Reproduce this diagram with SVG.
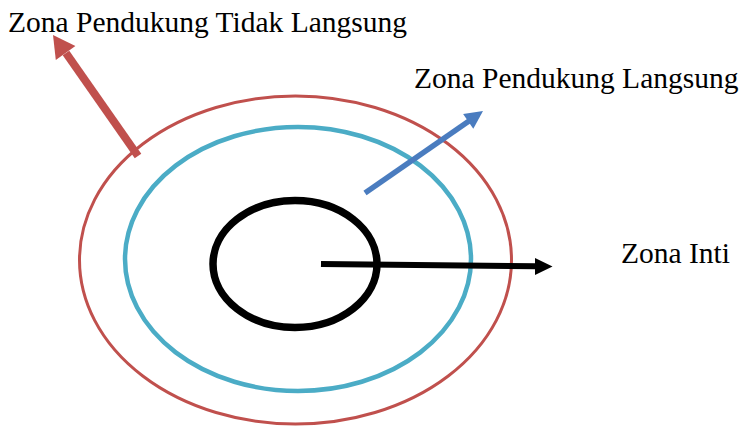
<svg xmlns="http://www.w3.org/2000/svg" width="739" height="427" viewBox="0 0 739 427">
<style>
.lbl{font-family:"Liberation Serif","Times New Roman",serif;font-size:29.5px;fill:#000}
.ring{fill:none}
</style>
<rect width="739" height="427" fill="#fff"/>
<g id="zona-pendukung-tidak-langsung">
<ellipse class="ring" cx="295.5" cy="260" rx="216" ry="164" stroke="#C0504D" stroke-width="3"/>
</g>
<g id="zona-pendukung-langsung">
<ellipse class="ring" cx="298" cy="259" rx="173" ry="132" stroke="#4BACC6" stroke-width="4.5"/>
</g>
<g id="zona-inti">
<ellipse class="ring" cx="295" cy="264" rx="82" ry="63.5" stroke="#000" stroke-width="7.5"/>
</g>
<g id="connectors">
<line x1="138" y1="156" x2="66" y2="53" stroke="#C0504D" stroke-width="8"/>
<polygon points="53,35 75.4,46.1 55.8,59.9" fill="#C0504D"/>
<line x1="365" y1="193" x2="469" y2="121" stroke="#4A7CBF" stroke-width="5.5"/>
<polygon points="483,111 473.3,128.7 463.1,113.9" fill="#4A7CBF"/>
<line x1="321" y1="264" x2="537" y2="266.3" stroke="#000" stroke-width="6"/>
<polygon points="552.5,266.5 535,258 535,275" fill="#000"/>
</g>
<g id="labels">
<text class="lbl" x="8" y="31.5">Zona Pendukung Tidak Langsung</text>
<text class="lbl" x="414" y="88.3">Zona Pendukung Langsung</text>
<text class="lbl" x="621" y="263.3">Zona Inti</text>
</g>
</svg>
